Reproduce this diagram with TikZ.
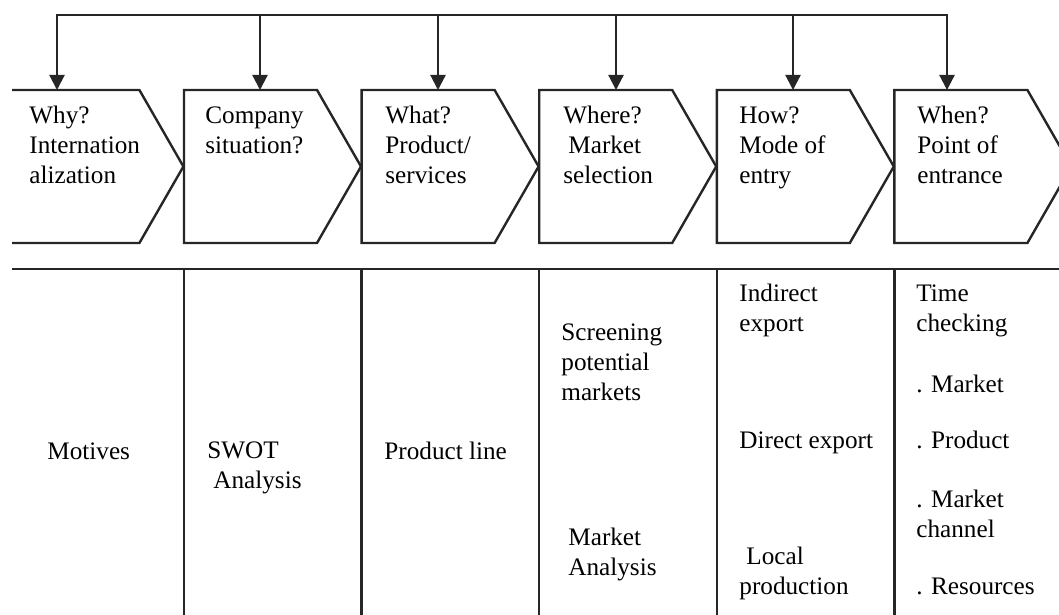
\documentclass[tikz,border=0pt]{standalone}
\usepackage{fontspec}
\setmainfont{Liberation Serif}
\usetikzlibrary{arrows.meta, positioning}

\begin{document}
\begin{tikzpicture}[x=0.5pt, y=-0.5pt,
  chev/.style={draw=black!85, line width=1.2pt, line join=miter},
  rule/.style={draw=black!85, line width=1.2pt},
  feed/.style={draw=black!85, line width=1.1pt, -{Triangle[length=7.5pt, width=7.5pt]}},
  lbl/.style={anchor=base west, inner sep=0pt, align=left, font=\fontsize{12.6}{14.8}\selectfont}]
  \useasboundingbox (0,0) rectangle (1059,615);

  %chevrons for the six questions, cut at the left margin
  \begin{scope}
    \clip (12,0) rectangle (1059,615);
    \foreach \n/\lx/\ax in {1/6.4/57, 2/184/260, 3/361.6/438, 4/539.2/616, 5/716.8/793, 6/894.4/947} {
      \draw[chev] (\lx,90) -- (\lx+133,90) -- (\lx+177,166.5) -- (\lx+133,243) -- (\lx,243) -- cycle;
      \coordinate (bus\n) at (\ax,15);
      \coordinate (top\n) at (\ax,90);
    }
  \end{scope}

  %feedback bus across the top
  \draw[rule, line cap=rect] (bus1) -- (bus6);
  \foreach \n in {1,...,6}
    \draw[feed] (bus\n) -- (top\n);

  %question texts (placed by the baseline of their last line)
  \node[lbl] (why) at (29,183) {Why?\\Internation\\alization};
  \node[lbl] (company) at (205,153.5) {Company\\situation?};
  \node[lbl] (what) at (385,183) {What?\\Product/\\services};
  \node[lbl] (where) at (563,183) {Where?\\\hspace{2.5pt}Market\\selection};
  \node[lbl] (how) at (739,183) {How?\\Mode of\\entry};
  \node[lbl] (when) at (917,183) {When?\\Point of\\entrance};

  %table below
  \draw[rule] (12,269) -- (1059,269);
  \foreach \lx in {184, 361.6, 539.2, 716.8, 894.4}
    \draw[rule] (\lx,269) -- (\lx,620);

  \node[lbl] (motives) at (47,459) {Motives};
  \node[lbl] (swot) at (207,488) {SWOT\\\hspace{3pt}Analysis};
  \node[lbl] (prodline) at (384,459) {Product line};
  \node[lbl] (screening) at (561,400) {Screening\\potential\\markets};
  \node[lbl] (mktanalysis) at (568,575) {Market\\Analysis};
  \node[lbl] (indirect) at (739,331) {Indirect\\export};
  \node[lbl] (direct) at (739,448) {Direct export};
  \node[lbl] (local) at (739,594) {\hspace{3.5pt}Local\\production};
  \node[lbl] (timecheck) at (916,331) {Time\\checking};
  \node[lbl] (chkmarket) at (916,392) {. Market};
  \node[lbl] (chkproduct) at (916,448) {. Product};
  \node[lbl] (chkchannel) at (916,537) {. Market\\channel};
  \node[lbl] (chkresources) at (916,594) {. Resources};
\end{tikzpicture}
\end{document}
